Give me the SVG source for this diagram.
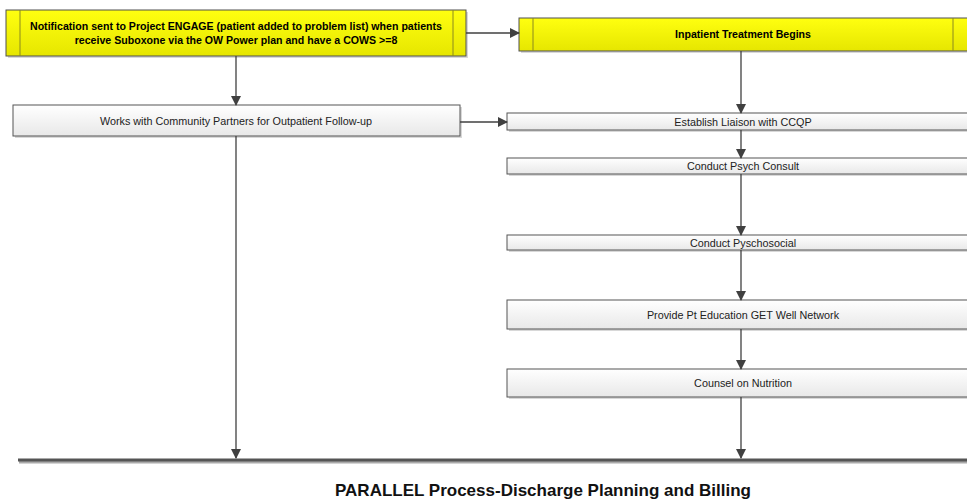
<svg xmlns="http://www.w3.org/2000/svg" width="967" height="502" viewBox="0 0 967 502">
<defs>
<linearGradient id="gy" x1="0" y1="0" x2="0" y2="1"><stop offset="0" stop-color="#ffff10"/><stop offset="1" stop-color="#e6e600"/></linearGradient>
<linearGradient id="gw" x1="0" y1="0" x2="0" y2="1"><stop offset="0" stop-color="#ffffff"/><stop offset="1" stop-color="#e8e8e8"/></linearGradient>
<marker id="ah" markerWidth="10" markerHeight="10" refX="9" refY="5" orient="auto" markerUnits="userSpaceOnUse"><path d="M0,0 L10,5 L0,10 z" fill="#404040"/></marker>
<style>
.sh{fill:#c8c8c8;opacity:0.7}
.y{fill:url(#gy);stroke:#505050;stroke-width:1}
.yi{stroke:#8a8a20;stroke-width:1}
.w{fill:url(#gw);stroke:#555;stroke-width:1}
.c{fill:none;stroke:#404040;stroke-width:1.3;marker-end:url(#ah)}
.tb{font-family:"Liberation Sans",Arial,sans-serif;font-weight:bold;font-size:10.6px;fill:#000;text-anchor:middle}
.t{font-family:"Liberation Sans",Arial,sans-serif;font-size:10.8px;fill:#222;text-anchor:middle}
</style>
</defs>
<g id="n1">
<rect class="sh" x="8" y="12" width="460" height="46"/>
<rect class="y" x="6" y="10" width="460" height="46"/>
<line class="yi" x1="20" y1="10" x2="20" y2="56"/>
<line class="yi" x1="453" y1="10" x2="453" y2="56"/>
<text class="tb" x="236" y="30">Notification sent to Project ENGAGE (patient added to problem list) when patients</text>
<text class="tb" x="236" y="44">receive Suboxone via the OW Power plan and have a COWS &gt;=8</text>
</g>
<g id="n2">
<rect class="sh" x="521" y="20" width="450" height="33"/>
<rect class="y" x="519" y="18" width="452" height="33"/>
<line class="yi" x1="533" y1="18" x2="533" y2="51"/>
<line class="yi" x1="953" y1="18" x2="953" y2="51"/>
<text class="tb" x="743" y="38">Inpatient Treatment Begins</text>
</g>
<g id="n3">
<rect class="sh" x="15" y="107" width="447" height="31"/>
<rect class="w" x="13" y="105" width="447" height="31"/>
<text class="t" x="236" y="124.5">Works with Community Partners for Outpatient Follow-up</text>
</g>
<g id="n4">
<rect class="sh" x="509" y="115" width="470" height="17"/>
<rect class="w" x="507" y="113" width="470" height="17"/>
<text class="t" x="743" y="125.5">Establish Liaison with CCQP</text>
</g>
<g id="n5">
<rect class="sh" x="509" y="160" width="470" height="16"/>
<rect class="w" x="507" y="158" width="470" height="16"/>
<text class="t" x="743" y="170">Conduct Psych Consult</text>
</g>
<g id="n6">
<rect class="sh" x="509" y="237" width="470" height="15"/>
<rect class="w" x="507" y="235" width="470" height="15"/>
<text class="t" x="743" y="246.5">Conduct Pyschosocial</text>
</g>
<g id="n7">
<rect class="sh" x="509" y="302" width="470" height="29"/>
<rect class="w" x="507" y="300" width="470" height="29"/>
<text class="t" x="743" y="318.5">Provide Pt Education GET Well Network</text>
</g>
<g id="n8">
<rect class="sh" x="509" y="371" width="470" height="28"/>
<rect class="w" x="507" y="369" width="470" height="28"/>
<text class="t" x="743" y="387">Counsel on Nutrition</text>
</g>
<g id="bar">
<line x1="19" y1="462" x2="967" y2="462" stroke="#aaa" stroke-width="3"/>
<line x1="18" y1="460" x2="967" y2="460" stroke="#555" stroke-width="3"/>
<text x="543" y="496" font-family="'Liberation Sans',Arial,sans-serif" font-weight="bold" font-size="17px" fill="#111" text-anchor="middle">PARALLEL Process-Discharge Planning and Billing</text>
</g>
<g id="connectors">
<path class="c" d="M466,33 H519"/>
<path class="c" d="M236,56 V105"/>
<path class="c" d="M460,122 H507"/>
<path class="c" d="M236,136 V458"/>
<path class="c" d="M741,51 V113"/>
<path class="c" d="M741,130 V158"/>
<path class="c" d="M741,174 V235"/>
<path class="c" d="M741,250 V300"/>
<path class="c" d="M741,329 V369"/>
<path class="c" d="M741,397 V458"/>
</g>
</svg>
